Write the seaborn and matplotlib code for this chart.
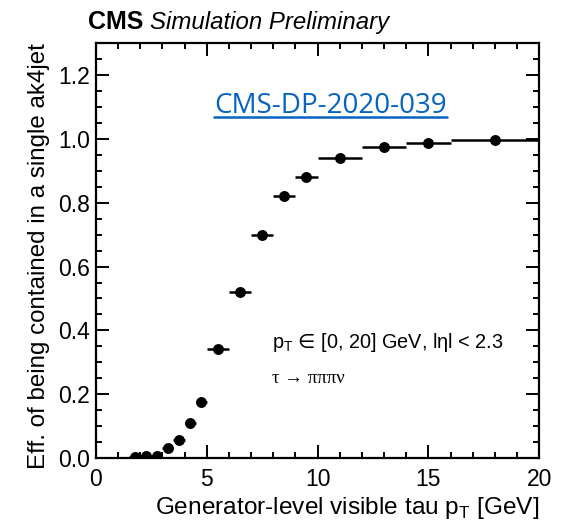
import matplotlib
matplotlib.use("Agg")
import matplotlib.pyplot as plt
import seaborn as sns
import pandas as pd
from matplotlib.ticker import MultipleLocator
from matplotlib.lines import Line2D

# ---- data ----
pt_center = [1.75, 2.25, 2.75, 3.25, 3.75, 4.25, 4.75, 5.5, 6.5, 7.5, 8.5, 9.5, 11.0, 13.0, 15.0, 18.0]
pt_halfwidth = [0.25, 0.25, 0.25, 0.25, 0.25, 0.25, 0.25, 0.5, 0.5, 0.5, 0.5, 0.5, 1.0, 1.0, 1.0, 2.0]
efficiency = [0.003, 0.005, 0.006, 0.032, 0.056, 0.11, 0.175, 0.34, 0.519, 0.70, 0.82, 0.882, 0.94, 0.975, 0.987, 0.997]

x_ticks = [0, 5, 10, 15, 20]
y_ticks = [0.0, 0.2, 0.4, 0.6, 0.8, 1.0, 1.2]
y_ticklabels = ["0.0", "0.2", "0.4", "0.6", "0.8", "1.0", "1.2"]

x_label = "Generator-level visible tau p$_{\\mathregular{T}}$ [GeV]"
y_label = "Eff. of being contained in a single ak4jet"
note1 = "p$_{\\mathregular{T}}$ $\u2208$ [0, 20] GeV, l\u03b7l < 2.3"
note2 = "\u03c4 \u2192 \u03c0\u03c0\u03c0\u03bd"
ref_text = "CMS-DP-2020-039"

df = pd.DataFrame({"pt": pt_center, "xerr": pt_halfwidth, "eff": efficiency})

sns.set_style("ticks")
plt.rcParams["font.family"] = ["Liberation Sans", "DejaVu Sans"]
plt.rcParams["mathtext.fontset"] = "custom"
plt.rcParams["mathtext.rm"] = "Liberation Sans"
plt.rcParams["text.color"] = "black"
plt.rcParams["axes.labelcolor"] = "black"
plt.rcParams["xtick.color"] = "black"
plt.rcParams["ytick.color"] = "black"

fig = plt.figure(figsize=(5.64, 5.21), dpi=100)
ax = fig.add_axes([0.170, 0.121, 0.786, 0.796])

ax.errorbar(df["pt"], df["eff"], xerr=df["xerr"], fmt="none", ecolor="black",
            elinewidth=1.8, capsize=0, zorder=2)
sns.scatterplot(data=df, x="pt", y="eff", ax=ax, color="black", s=62,
                edgecolor="black", linewidth=0, zorder=3, legend=False)

ax.set_xlim(0, 20)
ax.set_ylim(0, 1.3)
ax.set_xticks(x_ticks)
ax.xaxis.set_minor_locator(MultipleLocator(1))
ax.set_yticks(y_ticks)
ax.set_yticklabels(y_ticklabels)
ax.yaxis.set_minor_locator(MultipleLocator(0.05))
ax.tick_params(which="both", direction="in", top=True, right=True, width=1.4,
               labelsize=16.5, colors="black")
ax.tick_params(axis="x", which="major", pad=7)
ax.tick_params(axis="y", which="major", pad=4)
ax.tick_params(which="major", length=9.5)
ax.tick_params(which="minor", length=4.5)
for s in ax.spines.values():
    s.set_linewidth(1.6)
    s.set_color("black")

ax.set_xlabel(x_label, fontsize=17.6, loc="right", labelpad=3, color="black")
ax.set_ylabel(y_label, fontsize=17.4, loc="top", labelpad=6, color="black")

fig.text(0.156, 0.944, "CMS", fontsize=18, fontweight="bold", ha="left", va="baseline")
fig.text(0.266, 0.944, "Simulation Preliminary", fontsize=17.3, style="italic",
         ha="left", va="baseline")

ax.text(0.397, 0.265, note1, transform=ax.transAxes, fontsize=14.3, ha="left",
        va="baseline", math_fontfamily="dejavusans")
ax.text(0.397, 0.18, note2, transform=ax.transAxes, fontsize=13.5, ha="left",
        va="baseline", family=["Liberation Serif", "DejaVu Serif"])

t = fig.text(0.380, 0.783, ref_text, fontsize=20, color="#0563C1",
             family=["Open Sans", "DejaVu Sans"], ha="left", va="baseline")
fig.canvas.draw()
bb = t.get_window_extent(renderer=fig.canvas.get_renderer())
bbf = bb.transformed(fig.transFigure.inverted())
fig.add_artist(Line2D([bbf.x0, bbf.x1], [0.776, 0.776], transform=fig.transFigure,
                      color="#0563C1", linewidth=1.8))

fig.savefig("out.png", dpi=100)
